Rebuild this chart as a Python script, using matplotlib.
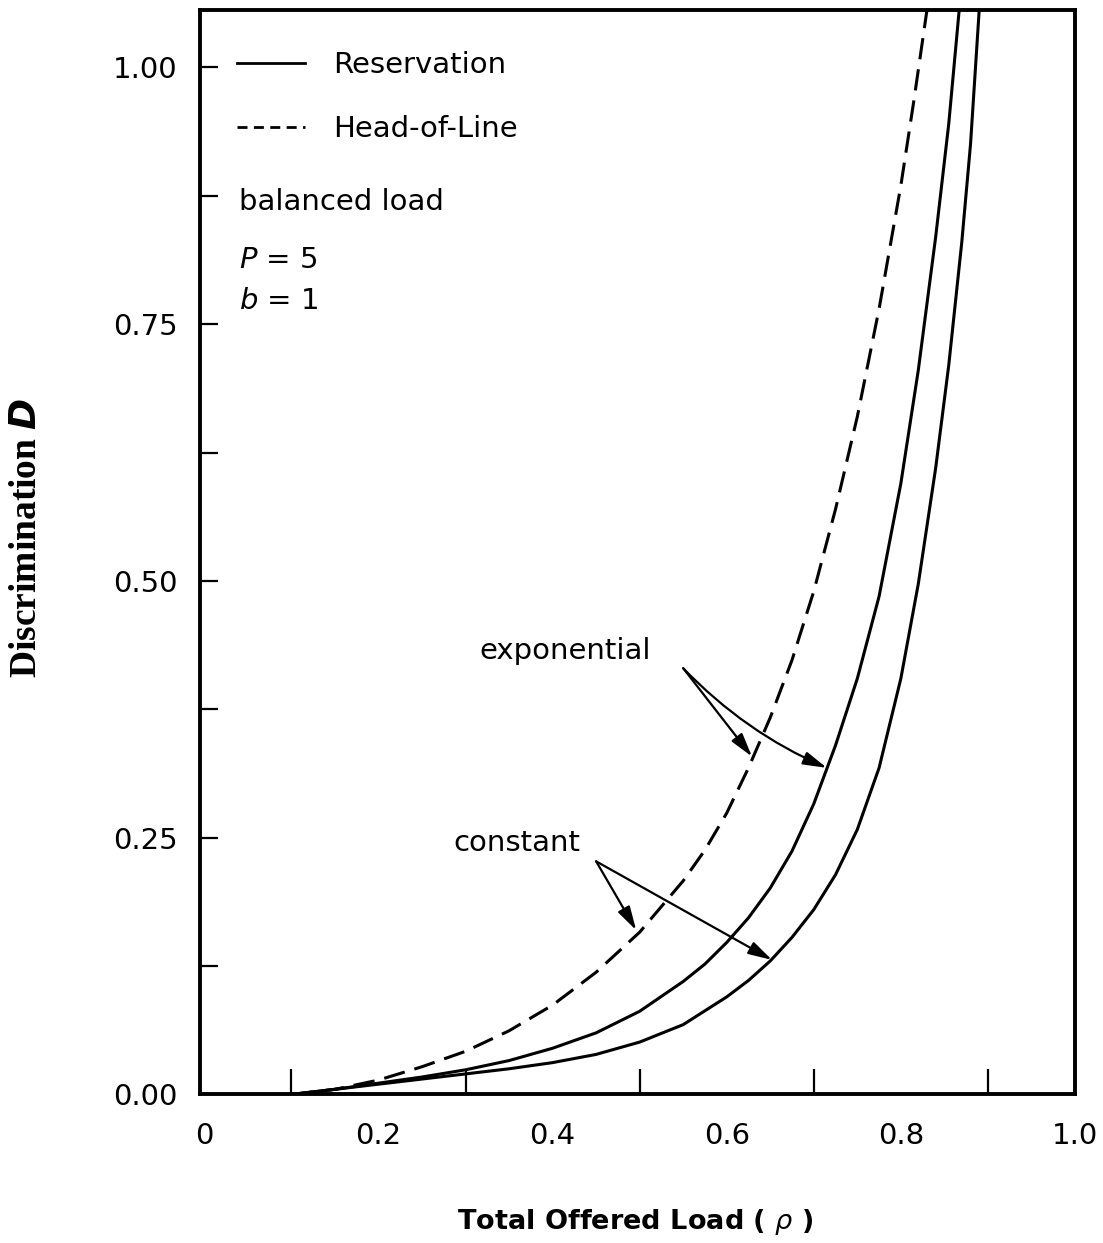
import matplotlib
matplotlib.use("Agg")
import matplotlib.pyplot as plt
from matplotlib.lines import Line2D

plt.rcParams['font.family'] = ['DejaVu Sans']
plt.rcParams['mathtext.fontset'] = 'dejavusans'

# Head-of-Line (dashed)
hol_x = [0.10, 0.15, 0.20, 0.25, 0.30, 0.35, 0.40, 0.45, 0.50, 0.525, 0.55, 0.575,
         0.60, 0.625, 0.65, 0.675, 0.70, 0.725, 0.75, 0.775, 0.80, 0.815, 0.830]
hol_y = [0.0, 0.005, 0.014, 0.027, 0.042, 0.062, 0.087, 0.119, 0.158, 0.183, 0.208, 0.238,
         0.274, 0.318, 0.367, 0.423, 0.490, 0.570, 0.660, 0.765, 0.885, 0.968, 1.056]

# Reservation, exponential service
rexp_x = [0.10, 0.15, 0.20, 0.25, 0.30, 0.35, 0.40, 0.45, 0.50, 0.55, 0.575, 0.60,
          0.625, 0.65, 0.675, 0.70, 0.725, 0.75, 0.775, 0.80, 0.82, 0.84, 0.855, 0.867]
rexp_y = [0.0, 0.005, 0.011, 0.017, 0.024, 0.033, 0.045, 0.060, 0.081, 0.110, 0.127, 0.148,
          0.172, 0.201, 0.237, 0.283, 0.340, 0.405, 0.485, 0.595, 0.705, 0.835, 0.945, 1.056]

# Reservation, constant service
rcon_x = [0.10, 0.15, 0.20, 0.25, 0.30, 0.35, 0.40, 0.45, 0.50, 0.55, 0.60, 0.625,
          0.65, 0.675, 0.70, 0.725, 0.75, 0.775, 0.80, 0.82, 0.84, 0.855, 0.87, 0.88, 0.89]
rcon_y = [0.0, 0.005, 0.010, 0.015, 0.020, 0.025, 0.031, 0.039, 0.051, 0.068, 0.095, 0.111,
          0.130, 0.153, 0.180, 0.214, 0.258, 0.318, 0.405, 0.497, 0.610, 0.710, 0.830, 0.925, 1.056]

xticks = [0, 0.2, 0.4, 0.6, 0.8, 1.0]
xtick_labels = ["0", "0.2", "0.4", "0.6", "0.8", "1.0"]
xminor = [0.1, 0.2, 0.3, 0.4, 0.5, 0.6, 0.7, 0.8, 0.9]
yticks = [0.0, 0.25, 0.50, 0.75, 1.00]
ytick_labels = ["0.00", "0.25", "0.50", "0.75", "1.00"]
yminor = [0.125, 0.375, 0.625, 0.875]

fig = plt.figure(figsize=(11.03, 12.43), dpi=100)
ax = fig.add_axes([0.1813, 0.1195, 0.7933, 0.8725])

lw = 2.2
ax.plot(hol_x, hol_y, color="black", lw=lw, dashes=(7, 3.3))
ax.plot(rexp_x, rexp_y, color="black", lw=lw)
ax.plot(rcon_x, rcon_y, color="black", lw=lw)

ax.set_xlim(-0.005, 1.0)
ax.set_ylim(0, 1.056)

for s in ax.spines.values():
    s.set_linewidth(2.8)

ax.set_xticks(xticks)
ax.set_xticklabels(xtick_labels)
ax.set_xticks(xminor, minor=True)
ax.set_yticks(yticks)
ax.set_yticklabels(ytick_labels)
ax.set_yticks(yminor, minor=True)
ax.tick_params(axis="x", which="major", length=0, pad=20, labelsize=21)
ax.tick_params(axis="x", which="minor", direction="in", length=18, width=1.6)
ax.tick_params(axis="y", which="both", direction="in", length=13, width=1.6)
ax.tick_params(axis="y", which="major", pad=16, labelsize=21)

fig.text(0.576, 0.0169, r"Total Offered Load ( $\rho$ )", fontsize=19.5, fontweight="bold",
         ha="center", va="center")
fig.text(0.024, 0.567, r"Discrimination $\boldsymbol{D}$", rotation=90, va="center", ha="center",
         fontsize=27, family="Liberation Serif", fontweight="bold")

handles = [Line2D([], [], color="black", lw=2.0),
           Line2D([], [], color="black", lw=2.0, dashes=(3.6, 2.3))]
ax.legend(handles, ["Reservation", "Head-of-Line"], loc="upper left",
          bbox_to_anchor=(0.0424, 0.962), frameon=False, fontsize=21,
          handlelength=2.33, handletextpad=0.96, labelspacing=1.22,
          borderpad=0, borderaxespad=0)

ax.text(0.040, 0.869, "balanced load", fontsize=21, va="center")
ax.text(0.040, 0.813, r"$P$ = 5", fontsize=21, va="center")
ax.text(0.040, 0.773, r"$b$ = 1", fontsize=21, va="center")

ax.text(0.414, 0.432, "exponential", fontsize=21, va="center", ha="center")
ax.text(0.359, 0.245, "constant", fontsize=21, va="center", ha="center")

aprops = dict(arrowstyle="-|>,head_length=0.9,head_width=0.25", color="black",
              lw=1.6, shrinkA=0, shrinkB=0, mutation_scale=16)
ax.annotate("", xy=(0.629, 0.329), xytext=(0.550, 0.415), arrowprops=aprops)
ax.annotate("", xy=(0.715, 0.318), xytext=(0.550, 0.415),
            arrowprops=dict(aprops, connectionstyle="arc3,rad=0.1"))
ax.annotate("", xy=(0.496, 0.160), xytext=(0.450, 0.227), arrowprops=aprops)
ax.annotate("", xy=(0.652, 0.131), xytext=(0.450, 0.227), arrowprops=aprops)

fig.savefig("out.png", dpi=100)
